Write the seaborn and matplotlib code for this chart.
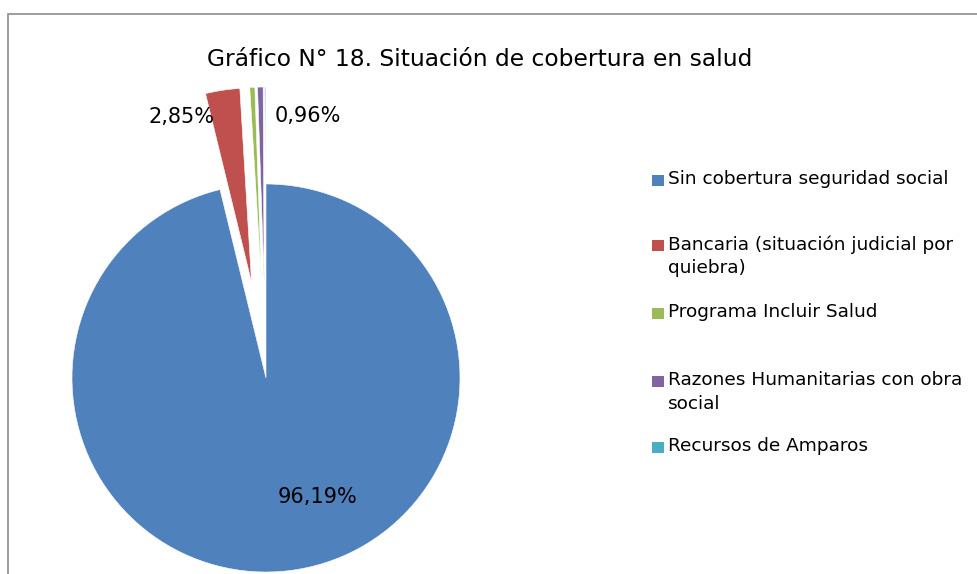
import numpy as np
import matplotlib
matplotlib.use("Agg")
import matplotlib.pyplot as plt
import seaborn as sns
from matplotlib.patches import Rectangle

# data
categorias = ["Sin cobertura seguridad social",
              "Bancaria (situación judicial por\nquiebra)",
              "Programa Incluir Salud",
              "Razones Humanitarias con obra\nsocial",
              "Recursos de Amparos"]
porcentajes = [96.19, 2.85, 0.42, 0.46, 0.08]
etiquetas = ["96,19%", "2,85%", "", "0,96%", ""]
colores = ["#4F81BD", "#C0504D", "#9BBB59", "#8064A2", "#4BACC6"]

sns.set_theme(style="white")
plt.rcParams["font.family"] = ["DejaVu Sans"]

fig = plt.figure(figsize=(9.77, 5.74), dpi=100)
W, H = 977, 574

# outer chart border (cropped on the right and bottom)
fig.patches.append(Rectangle((8 / W, -0.1), 1.2, 1 - 14 / H + 0.1,
                             transform=fig.transFigure, fill=False,
                             edgecolor="#8c8c8c", linewidth=1.2))

# axes placed so one radius unit = 194 px, pie center at (266, 378)
cx, cy, rpx = 266, 378, 194
left, right, top, bottom = 40, 500, 60, 574
ax = fig.add_axes([left / W, 1 - bottom / H, (right - left) / W, (bottom - top) / H])

explode = [0, 0.5, 0.5, 0.5, 0.5]
wedges, _ = ax.pie(porcentajes, colors=sns.color_palette(colores),
                   startangle=90, counterclock=False, explode=explode,
                   wedgeprops=dict(edgecolor="white", linewidth=0.4))
ax.set_xlim((left - cx) / rpx, (right - cx) / rpx)
ax.set_ylim((cy - bottom) / rpx, (cy - top) / rpx)
ax.set_aspect("equal")
ax.axis("off")

# label distance / alignment / nudge per slice
dist = [0.62, 0.88, 0.0, 0.86, 0.0]
ha = ["center", "right", "center", "left", "center"]
dx = [0.19, -0.06, 0.0, 0.07, 0.0]
dy = [0.0, -0.02, 0.0, -0.01, 0.0]
for w, lab, d, h, ox, oy in zip(wedges, etiquetas, dist, ha, dx, dy):
    if not lab:
        continue
    ang = np.deg2rad((w.theta1 + w.theta2) / 2)
    x = w.center[0] + d * w.r * np.cos(ang) + ox
    y = w.center[1] + d * w.r * np.sin(ang) + oy
    ax.text(x, y, lab, ha=h, va="center", fontsize=15, color="black")

fig.text(480 / W, 1 - 60 / H, "Gráfico N° 18. Situación de cobertura en salud",
         ha="center", va="center", fontsize=16.8, color="black")

# legend, drawn by hand so the key sits on the first line of wrapped labels
ley_y = [180, 245, 313, 381, 447]
for cat, col, yy in zip(categorias, colores, ley_y):
    fig.patches.append(Rectangle((652 / W, 1 - (yy + 5.5) / H), 12 / W, 11 / H,
                                 transform=fig.transFigure, facecolor=col,
                                 edgecolor="none"))
    fig.text(668 / W, 1 - (yy - 10) / H, cat, ha="left", va="top",
             fontsize=13.3, color="black", linespacing=1.4)

fig.savefig("out.png", dpi=100)
